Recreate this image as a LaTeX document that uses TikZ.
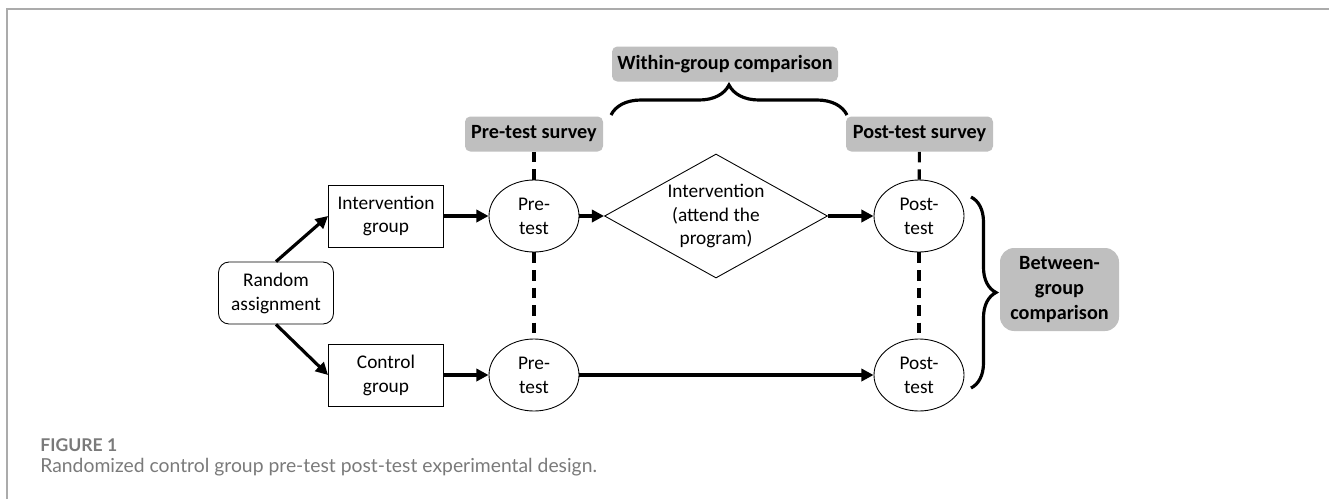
\documentclass[tikz,border=0pt]{standalone}
\usepackage{fontspec}
\setmainfont{Carlito}
\newfontfamily\capfont{Lato}
\usetikzlibrary{arrows.meta,shapes.geometric,decorations.pathreplacing}

\definecolor{labelgray}{HTML}{BFBFBF}
\definecolor{framegray}{HTML}{ABABAB}
\definecolor{captiongray}{HTML}{7A7A7A}

\tikzset{
  groupbox/.style={draw, line width=0.5pt, minimum width=2.3cm,
    minimum height=1.24cm, align=center, inner sep=0pt},
  testellipse/.style={ellipse, draw, line width=0.5pt, minimum width=1.8cm,
    minimum height=1.44cm, align=center, inner sep=0pt},
  surveylabel/.style={fill=labelgray, rounded corners=3pt,
    font=\fontsize{11.5}{14}\selectfont\bfseries,
    minimum height=0.7cm, inner sep=0pt, align=center},
  flow/.style={line width=1.8pt, -{Triangle[length=7pt,width=7pt]}},
  link/.style={line width=1.8pt, dash pattern=on 6pt off 4pt},
  curly/.style={line width=1.8pt, decorate, decoration={brace, amplitude=#1}}
}

\begin{document}
\begin{tikzpicture}[font=\fontsize{11}{13.6}\selectfont]
      \useasboundingbox (0,0) rectangle (26.58,-9.98);

      \draw[framegray, line width=1.1pt] (0.14,-9.98) -- (0.14,-0.18) -- (26.58,-0.18);



      \node[groupbox, rounded corners=6pt, minimum width=2.3cm] (rand) at (5.52,-5.86)
        {Random\\assignment};

      \node[groupbox] (intgrp) at (7.72,-4.32) {Intervention\\group};

      \node[groupbox] (ctrlgrp) at (7.72,-7.50) {Control\\group};



      \node[testellipse] (pre1) at (10.68,-4.32) {Pre-\\test};

      \node[testellipse] (pre2) at (10.68,-7.50) {Pre-\\test};

      \node[diamond, draw, line width=0.5pt, aspect=1.8, inner sep=0pt,
        minimum width=4.46cm, minimum height=2.48cm, align=center]
        (interv) at (14.32,-4.32) {Intervention\\(attend the\\program)};

      \node[testellipse] (post1) at (18.38,-4.32) {Post-\\test};

      \node[testellipse] (post2) at (18.38,-7.50) {Post-\\test};



      \node[surveylabel, minimum width=2.76cm] (presurvey) at (10.68,-2.68)
        {Pre-test survey};

      \node[surveylabel, minimum width=2.94cm] (postsurvey) at (18.39,-2.68)
        {Post-test survey};

      \node[surveylabel, minimum width=4.52cm] (within) at (14.50,-1.28)
        {Within-group comparison};

      \node[surveylabel, rounded corners=8pt, minimum width=2.38cm,
        minimum height=1.66cm] (between) at (21.19,-5.79)
        {Between-\\group\\comparison};



      \draw[flow] (rand.north) -- (intgrp.west);
      \draw[flow] (rand.south) -- (ctrlgrp.west);
      \draw[flow] (intgrp) -- (pre1);
      \draw[flow] (ctrlgrp) -- (pre2);
      \draw[flow] (pre1) -- (interv);
      \draw[flow] (interv) -- (post1);
      \draw[flow] (pre2) -- (post2);

      \draw[link] (presurvey) -- (pre1);
      \draw[link] (pre1) -- (pre2);
      \draw[link] (postsurvey) -- (post1);
      \draw[link] (post1) -- (post2);



      \coordinate (wleft) at (12.22,-2.30);
      \coordinate (wright) at (16.94,-2.30);
      \draw[curly=0.6cm] (wleft) -- (wright);

      \coordinate (btop) at (19.42,-3.94);
      \coordinate (bbot) at (19.42,-7.76);
      \draw[curly=0.5cm] (btop) -- (bbot);



      \node[anchor=west, text=captiongray, inner sep=0pt]
        (figlabel) at (0.80,-8.90) {\capfont\fontsize{10}{12}\selectfont\bfseries FIGURE 1};

      \node[anchor=west, text=captiongray, inner sep=0pt]
        (figcaption) at (0.80,-9.34)
        {\capfont\fontsize{11}{13}\selectfont Randomized control group pre-test post-test experimental design.};
    \end{tikzpicture}
\end{document}
